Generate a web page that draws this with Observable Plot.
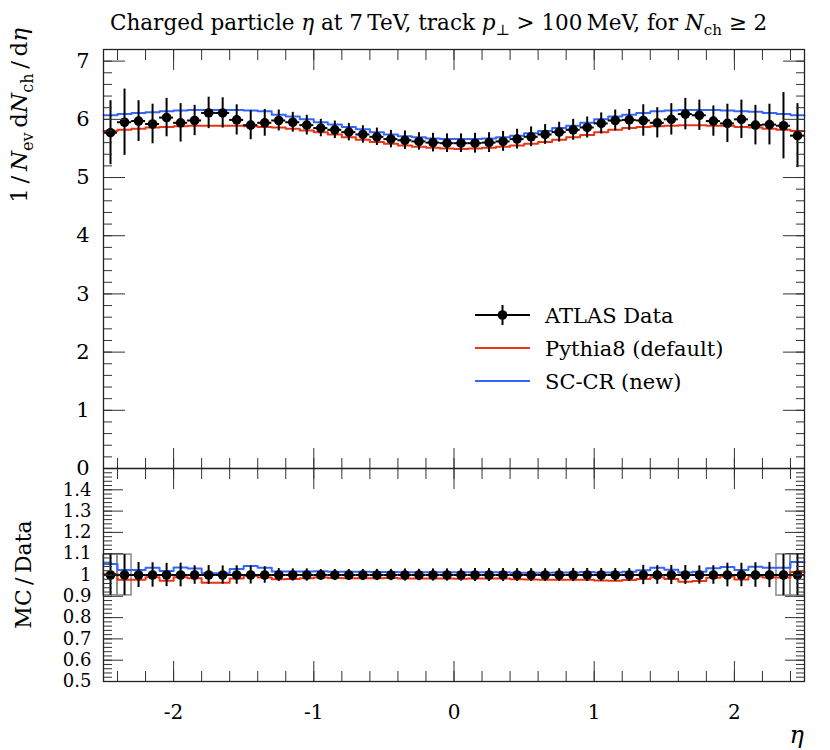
<!DOCTYPE html>
<html><head><meta charset="utf-8">
<script src="https://cdn.jsdelivr.net/npm/d3@7"></script>
<script src="https://cdn.jsdelivr.net/npm/@observablehq/plot@0.6"></script>
<style>
body{margin:0;background:#fff;}
#wrap{position:relative;width:830px;height:750px;font-family:"DejaVu Serif",serif;}
#wrap svg{position:absolute;left:0;}
</style></head><body><div id="wrap"></div>
<script>
// ---- data ----
const etaCenters = [-2.45,-2.35,-2.25,-2.15,-2.05,-1.95,-1.85,-1.75,-1.65,-1.55,-1.45,-1.35,-1.25,-1.15,-1.05,-0.95,-0.85,-0.75,-0.65,-0.55,-0.45,-0.35,-0.25,-0.15,-0.05,
  0.05,0.15,0.25,0.35,0.45,0.55,0.65,0.75,0.85,0.95,1.05,1.15,1.25,1.35,1.45,1.55,1.65,1.75,1.85,1.95,2.05,2.15,2.25,2.35,2.45];
const binHalfWidth = 0.05;
const atlasValues = [5.77,5.95,5.97,5.92,6.03,5.94,5.98,6.11,6.11,5.99,5.90,5.94,5.98,5.95,5.90,5.85,5.82,5.78,5.74,5.70,5.66,5.64,5.62,5.60,5.59,
  5.59,5.59,5.60,5.62,5.66,5.70,5.74,5.78,5.82,5.86,5.93,5.98,5.99,5.98,5.94,6.00,6.09,6.07,5.97,5.93,6.00,5.90,5.91,5.89,5.72];
const atlasErrors = [0.55,0.57,0.35,0.34,0.33,0.33,0.26,0.27,0.26,0.26,0.25,0.23,0.18,0.17,0.17,0.15,0.15,0.15,0.15,0.15,0.15,0.16,0.15,0.16,0.16,
  0.16,0.17,0.17,0.17,0.17,0.17,0.17,0.17,0.18,0.18,0.18,0.18,0.18,0.27,0.26,0.27,0.27,0.26,0.26,0.33,0.33,0.34,0.35,0.57,0.55];
const pythia8Values = [5.80,5.82,5.84,5.86,5.87,5.88,5.89,5.89,5.89,5.89,5.88,5.87,5.86,5.84,5.81,5.78,5.74,5.69,5.65,5.61,5.58,5.55,5.53,5.51,5.50,
  5.49,5.50,5.51,5.53,5.55,5.58,5.61,5.65,5.69,5.73,5.78,5.82,5.85,5.87,5.88,5.89,5.90,5.90,5.89,5.89,5.87,5.86,5.84,5.82,5.80];
const sccrValues = [6.07,6.09,6.11,6.12,6.14,6.15,6.16,6.16,6.16,6.16,6.15,6.14,6.08,6.05,6.00,5.95,5.91,5.87,5.83,5.78,5.74,5.71,5.69,5.67,5.66,
  5.66,5.66,5.67,5.69,5.72,5.76,5.80,5.85,5.89,5.94,6.00,6.05,6.08,6.11,6.14,6.15,6.16,6.16,6.16,6.15,6.14,6.13,6.11,6.09,6.07];
const boxedBins = [-2.45,-2.35,2.35,2.45];
const seriesNames = ["ATLAS Data","Pythia8 (default)","SC-CR (new)"];
const seriesColors = ["#000000","#EE3311","#3366FF"];
const xTickValues = [-2,-1,0,1,2];
const mainYTickValues = [0,1,2,3,4,5,6,7];
const ratioYTickValues = [1.4,1.3,1.2,1.1,1,0.9,0.8,0.7,0.6,0.5];
const xMinorTicks = d3.range(-12,13).map(k=>+(k*0.2).toFixed(2));
const mainYMinor = d3.range(0,37).map(k=>+(k*0.2).toFixed(2));
const ratioYMinor = d3.range(25,76).map(k=>+(k*0.02).toFixed(2));

// ---- layout ----
const W = 830, frameL = 103, frameR = 804, mainTop = 49, split = 468, ratioBottom = 681;
const red = seriesColors[1], blue = seriesColors[2];
const tickColor = "#333";
const FONT = '"DejaVu Serif", serif';

const rows = etaCenters.map((eta,i)=>({eta, lo: eta-binHalfWidth, hi: eta+binHalfWidth,
  v: atlasValues[i], e: atlasErrors[i], p8: pythia8Values[i], sc: sccrValues[i]}));
const steps = f => rows.flatMap(d => [{x: d.lo, y: f(d)}, {x: d.hi, y: f(d)}]);

function tickAxes(yMinor, yMajor, minorLen, majorLen) {
  const common = {stroke: tickColor, fill: "none", label: null, tickFormat: () => ""};
  return [
    Plot.axisX({...common, ticks: xMinorTicks, anchor: "bottom", tickSize: -10}),
    Plot.axisX({...common, ticks: xTickValues, anchor: "bottom", tickSize: -20}),
    Plot.axisX({...common, ticks: xMinorTicks, anchor: "top", tickSize: -10}),
    Plot.axisX({...common, ticks: xTickValues, anchor: "top", tickSize: -20}),
    Plot.axisY({...common, ticks: yMinor, anchor: "left", tickSize: -minorLen}),
    Plot.axisY({...common, ticks: yMajor, anchor: "left", tickSize: -majorLen}),
    Plot.axisY({...common, ticks: yMinor, anchor: "right", tickSize: -minorLen}),
    Plot.axisY({...common, ticks: yMajor, anchor: "right", tickSize: -majorLen})
  ];
}

const wrap = document.getElementById("wrap");

// ---- main panel ----
const main = Plot.plot({
  width: W, height: split + 2,
  marginTop: mainTop, marginBottom: 2, marginLeft: frameL, marginRight: W - frameR,
  style: {background: "transparent", overflow: "visible", fontFamily: FONT, fontSize: "20px"},
  x: {domain: [-2.5, 2.5], axis: null},
  y: {domain: [0, 7.2], axis: null},
  marks: [
    Plot.line(steps(d => d.p8), {x: "x", y: "y", stroke: red, strokeWidth: 2}),
    Plot.line(steps(d => d.sc), {x: "x", y: "y", stroke: blue, strokeWidth: 2}),
    Plot.ruleX(rows, {x: "eta", y1: d => d.v - d.e, y2: d => d.v + d.e, stroke: "black", strokeWidth: 2}),
    Plot.ruleY(rows, {y: "v", x1: "lo", x2: "hi", stroke: "black", strokeWidth: 2}),
    Plot.dot(rows, {x: "eta", y: "v", r: 4.8, fill: "black", stroke: "none"}),
    ...tickAxes(mainYMinor, mainYTickValues, 9, 22),
    Plot.axisY({ticks: mainYTickValues, anchor: "left", tickSize: 0, tickPadding: 14, label: null,
      tickFormat: d => String(d), fontSize: 21, fill: "black"}),
    Plot.frame({stroke: "#222", strokeWidth: 1.3})
  ]
});
main.style.top = "0px";
wrap.appendChild(main);

// ---- ratio panel ----
const rTop = split - 2;
const ratio = Plot.plot({
  width: W, height: 750 - rTop,
  marginTop: split - rTop, marginBottom: 750 - ratioBottom, marginLeft: frameL, marginRight: W - frameR,
  style: {background: "transparent", overflow: "visible", fontFamily: FONT, fontSize: "20px"},
  x: {domain: [-2.5, 2.5], axis: null},
  y: {domain: [0.5, 1.5], axis: null},
  marks: [
    Plot.rect(rows.filter(d => boxedBins.includes(d.eta)), {x1: "lo", x2: "hi", y1: d => 1 - d.e / d.v, y2: d => 1 + d.e / d.v,
      fill: "none", stroke: "#888", strokeWidth: 1.5}),
    Plot.line(steps(d => d.p8 / d.v), {x: "x", y: "y", stroke: red, strokeWidth: 2}),
    Plot.line(steps(d => d.sc / d.v), {x: "x", y: "y", stroke: blue, strokeWidth: 2}),
    Plot.ruleX(rows, {x: "eta", y1: d => 1 - d.e / d.v, y2: d => 1 + d.e / d.v, stroke: "black", strokeWidth: 2}),
    Plot.ruleY(rows, {y: () => 1, x1: "lo", x2: "hi", stroke: "black", strokeWidth: 2}),
    Plot.dot(rows, {x: "eta", y: () => 1, r: 4.8, fill: "black", stroke: "none"}),
    ...tickAxes(ratioYMinor, ratioYTickValues, 9, 20),
    Plot.axisY({ticks: ratioYTickValues, anchor: "left", tickSize: 0, tickPadding: 12, label: null,
      tickFormat: d => String(d), fontSize: 18, fill: "black"}),
    Plot.axisX({ticks: xTickValues, anchor: "bottom", tickSize: 0, tickPadding: 23, label: null,
      tickFormat: d => String(d), fontSize: 20, fill: "black"}),
    Plot.frame({stroke: "#222", strokeWidth: 1.3})
  ]
});
ratio.style.top = rTop + "px";
wrap.appendChild(ratio);

// ---- texts: title, axis labels, legend ----
const sm = d3.select(main);
function rich(sel, parts, size) {
  parts.forEach(p => {
    const t = sel.append("tspan").text(p.t);
    if (p.i) t.attr("font-style", "italic");
    if (p.sub) t.attr("font-size", size * 0.7).attr("dy", size * 0.25);
    if (p.up) t.attr("dy", -size * 0.25);
  });
}
const title = sm.append("text").attr("x", 110).attr("y", 30).attr("font-size", 21.5)
  .attr("text-anchor", "start").attr("font-family", FONT).attr("fill", "black");
rich(title, [{t: "Charged particle "}, {t: "η", i: 1}, {t: " at 7\u2009TeV, track "}, {t: "p", i: 1},
  {t: "⊥", sub: 1}, {t: " > 100\u2009MeV, for ", up: 1}, {t: "N", i: 1}, {t: "ch", sub: 1}, {t: " ≥ 2", up: 1}], 21.5);

const ylab = sm.append("text").attr("transform", `translate(27,28) rotate(-90)`)
  .attr("text-anchor", "end").attr("font-size", 23).attr("font-family", FONT).attr("fill", "black");
rich(ylab, [{t: "1\u2009/\u2009"}, {t: "N", i: 1}, {t: "ev", sub: 1}, {t: "\u2009d", up: 1}, {t: "N", i: 1},
  {t: "ch", sub: 1}, {t: "\u2009/\u2009d", up: 1}, {t: "η", i: 1}], 23);

// legend
const legX1 = 475, legX2 = 530, legText = 545, legY = [315, 348, 381];
seriesNames.forEach((name, i) => {
  const y = legY[i];
  sm.append("line").attr("x1", legX1).attr("x2", legX2).attr("y1", y).attr("y2", y)
    .attr("stroke", seriesColors[i]).attr("stroke-width", 2);
  if (i === 0) {
    sm.append("line").attr("x1", (legX1 + legX2) / 2).attr("x2", (legX1 + legX2) / 2)
      .attr("y1", y - 10).attr("y2", y + 10).attr("stroke", "black").attr("stroke-width", 2);
    sm.append("circle").attr("cx", (legX1 + legX2) / 2).attr("cy", y).attr("r", 4.8).attr("fill", "black");
  }
  sm.append("text").attr("x", legText).attr("y", y + 8).attr("font-size", 21).attr("text-anchor", "start")
    .attr("font-family", FONT).attr("fill", "black").text(name);
});

const sr = d3.select(ratio);
sr.append("text").attr("transform", `translate(31,${(split + ratioBottom) / 2 - rTop}) rotate(-90)`)
  .attr("text-anchor", "middle").attr("font-size", 22).attr("font-family", FONT).attr("fill", "black")
  .text("MC\u2009/\u2009Data");
sr.append("text").attr("x", frameR).attr("y", 743 - rTop).attr("text-anchor", "end")
  .attr("font-size", 24).attr("font-style", "italic").attr("font-family", FONT).attr("fill", "black").text("η");
</script></body></html>
